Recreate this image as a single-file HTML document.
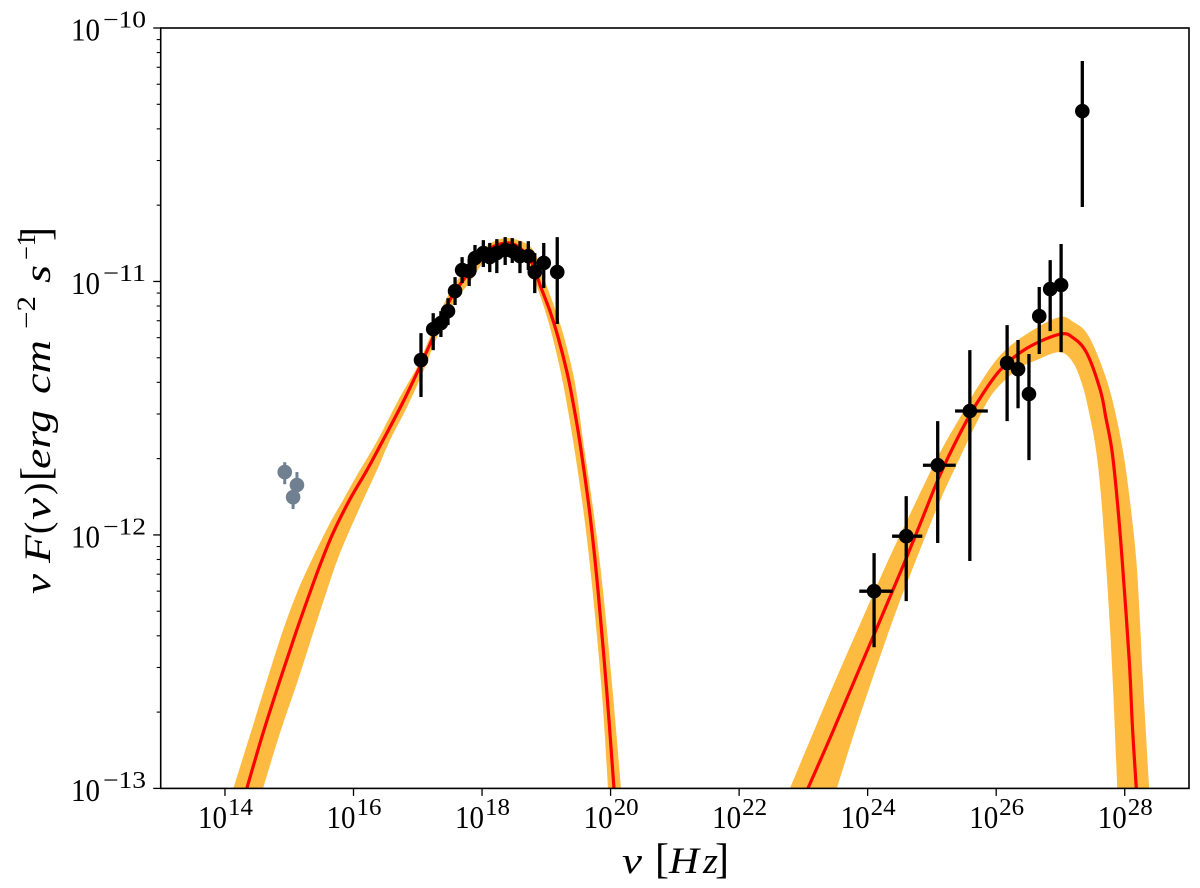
<!DOCTYPE html>
<html lang="en">
<head>
<meta charset="utf-8">
<title>Spectral energy distribution</title>
<style>
html,body{margin:0;padding:0;background:#fff;width:1200px;height:888px;overflow:hidden}
svg{display:block}
text{font-family:"Liberation Serif",serif;fill:#000}
.m{font-style:italic}
</style>
</head>
<body>
<svg id="chart" xmlns="http://www.w3.org/2000/svg" width="1200" height="888" viewBox="0 0 1200 888">
  <defs><clipPath id="plot-clip"><rect x="160.7" y="28" width="1028.3" height="760.4"/></clipPath></defs>
  <g id="bands" clip-path="url(#plot-clip)"></g>
  <g id="lines" clip-path="url(#plot-clip)"></g>
  <g id="points" clip-path="url(#plot-clip)"></g>
  <rect x="160.7" y="28" width="1028.3" height="760.4" fill="none" stroke="#000" stroke-width="1.6"/>
  <g id="ticks"></g>
  <g>
    <text y="873" font-size="37">
      <tspan class="m" x="622" textLength="20" lengthAdjust="spacingAndGlyphs">ν</tspan><tspan x="655" font-size="42">[</tspan><tspan class="m" x="669" textLength="30" lengthAdjust="spacingAndGlyphs">H</tspan><tspan class="m" x="703" textLength="15" lengthAdjust="spacingAndGlyphs">z</tspan><tspan x="715" font-size="42">]</tspan>
    </text>
  </g>
  <g transform="translate(50,594) rotate(-90)">
    <text y="0" font-size="37">
      <tspan class="m" x="0" textLength="20" lengthAdjust="spacingAndGlyphs">ν</tspan><tspan class="m" x="31" textLength="28" lengthAdjust="spacingAndGlyphs">F</tspan><tspan x="60">(</tspan><tspan class="m" x="74" textLength="22" lengthAdjust="spacingAndGlyphs">ν</tspan><tspan x="99">)</tspan><tspan x="113" font-size="42">[</tspan><tspan class="m" x="125" textLength="59" lengthAdjust="spacingAndGlyphs">erg</tspan><tspan class="m" x="200" textLength="54" lengthAdjust="spacingAndGlyphs">cm</tspan><tspan x="265" y="-15" font-size="26" textLength="33" lengthAdjust="spacingAndGlyphs">−2</tspan><tspan class="m" x="311" y="0" textLength="18" lengthAdjust="spacingAndGlyphs">s</tspan><tspan x="334" y="-15" font-size="26" textLength="26" lengthAdjust="spacingAndGlyphs">−1</tspan><tspan x="353" y="0" font-size="42">]</tspan>
    </text>
  </g>
</svg>
<script>
// All values are log10(frequency / Hz) and log10(flux / erg cm^-2 s^-1)
const modelNu = [14.34,14.592,14.856,15.105,15.292,15.479,15.681,15.945,16.21,16.46,16.77,17.03,17.24,17.50,17.73,18.05,18.36,18.59,18.793,18.902,19.057,19.182,19.322,19.415,19.524,19.68,19.804,19.944,20.053];
const modelFlux = [-13,-12.782,-12.573,-12.384,-12.249,-12.119,-11.993,-11.859,-11.744,-11.626,-11.476,-11.338,-11.219,-11.073,-10.987,-10.884,-10.848,-10.868,-10.935,-11.014,-11.117,-11.219,-11.358,-11.476,-11.638,-11.922,-12.218,-12.628,-13];
const modelHighNu = [23.07,23.414,23.725,24.036,24.30,24.55,24.81,25.125,25.44,25.70,26.06,26.48,26.99,27.20,27.41,27.62,27.708,27.80,27.879,27.96,28.07,28.12,28.18];
const modelHighFlux = [-13,-12.802,-12.616,-12.431,-12.273,-12.123,-11.961,-11.764,-11.598,-11.480,-11.350,-11.263,-11.208,-11.223,-11.283,-11.429,-11.539,-11.665,-11.851,-12.099,-12.494,-12.758,-13];

const bandUpperNu = [14.13,14.389,14.654,14.903,15.136,15.37,15.634,15.836,16.054,16.366,16.723,16.988,17.19,17.45,17.73,18.05,18.36,18.67,18.824,18.949,19.104,19.259,19.415,19.493,19.571,19.742,19.882,20.037,20.162];
const bandUpperFlux = [-13,-12.79,-12.573,-12.376,-12.218,-12.088,-11.953,-11.863,-11.764,-11.63,-11.456,-11.338,-11.219,-11.066,-10.955,-10.864,-10.829,-10.848,-10.888,-10.979,-11.085,-11.204,-11.361,-11.476,-11.626,-11.922,-12.218,-12.628,-13];
const bandLowerNu = [14.592,14.856,15.136,15.37,15.588,15.79,16.101,16.366,16.568,16.832,17.08,17.28,17.55,17.81,18.12,18.36,18.59,18.699,18.855,19.011,19.135,19.259,19.415,19.586,19.719,19.866,19.96];
const bandLowerFlux = [-13,-12.782,-12.573,-12.388,-12.218,-12.072,-11.89,-11.744,-11.626,-11.496,-11.358,-11.231,-11.089,-11.002,-10.892,-10.872,-10.892,-10.923,-11.022,-11.14,-11.259,-11.401,-11.626,-11.922,-12.218,-12.628,-13];

const bandHighUpperNu = [22.79,23.15,23.52,23.93,24.30,24.74,25.13,25.44,25.75,26.11,26.57,26.99,27.20,27.41,27.62,27.80,27.97,28.08,28.18,28.24,28.28,28.38];
const bandHighUpperFlux = [-13,-12.782,-12.561,-12.324,-12.111,-11.875,-11.673,-11.535,-11.401,-11.279,-11.192,-11.140,-11.160,-11.204,-11.318,-11.460,-11.665,-11.863,-12.099,-12.356,-12.561,-13];
const bandHighLowerNu = [23.52,23.83,24.19,24.46,24.74,25.13,25.44,25.70,25.95,26.32,26.63,26.99,27.20,27.35,27.46,27.553,27.63,27.704,27.77,27.822,27.884];
const bandHighLowerFlux = [-13,-12.751,-12.482,-12.289,-12.107,-11.863,-11.693,-11.555,-11.440,-11.350,-11.310,-11.279,-11.322,-11.417,-11.535,-11.665,-11.843,-12.099,-12.364,-12.624,-13];

const xrayNu = [17.05,17.24,17.36,17.47,17.58,17.69,17.80,17.89,18.02,18.12,18.23,18.36,18.47,18.59,18.72,18.82,18.96,19.17];
const xrayFlux = [-11.310,-11.188,-11.164,-11.117,-11.038,-10.955,-10.959,-10.908,-10.888,-10.904,-10.888,-10.876,-10.880,-10.900,-10.900,-10.963,-10.927,-10.963];
const xrayFluxHi = [-11.204,-11.125,-11.117,-11.066,-10.983,-10.904,-10.912,-10.856,-10.837,-10.848,-10.833,-10.825,-10.829,-10.841,-10.841,-10.888,-10.848,-10.825];
const xrayFluxLo = [-11.456,-11.271,-11.219,-11.172,-11.093,-11.006,-11.018,-10.963,-10.943,-10.963,-10.967,-10.935,-10.927,-10.967,-10.955,-11.046,-11.026,-11.168];

const gammaNu = [24.10,24.60,25.09,25.59,26.17,26.34,26.51,26.67,26.84,27.01,27.34];
const gammaNuLo = [23.87,24.38,24.86,25.36,26.17,26.34,26.51,26.67,26.84,27.01,27.34];
const gammaNuHi = [24.39,24.85,25.37,25.87,26.17,26.34,26.51,26.67,26.84,27.01,27.34];
const gammaFlux = [-12.222,-12.005,-11.725,-11.511,-11.322,-11.346,-11.444,-11.137,-11.030,-11.014,-10.328];
const gammaFluxHi = [-12.072,-11.847,-11.551,-11.271,-11.172,-11.231,-11.286,-11.022,-10.916,-10.852,-10.130];
const gammaFluxLo = [-12.443,-12.261,-12.032,-12.103,-11.551,-11.500,-11.705,-11.286,-11.196,-11.279,-10.706];

const opticalNu = [14.93,15.12,15.06];
const opticalFlux = [-11.752,-11.803,-11.851];
const opticalFluxHi = [-11.713,-11.752,-11.803];
const opticalFluxLo = [-11.800,-11.851,-11.898];

const xTickExponents = [14,16,18,20,22,24,26,28];
const yTickExponents = [-10,-11,-12,-13];
const yMinorMultipliers = [2,3,4,5,6,7,8,9];

const NS = 'http://www.w3.org/2000/svg';
const xMin = 13, xMax = 29, yMax = -10, yMin = -13;
const left = 160.7, right = 1189, top_ = 28, bottom = 788.4;
function xScale(v) { return left + (v - xMin) / (xMax - xMin) * (right - left); }
function yScale(v) { return top_ + (yMax - v) / (yMax - yMin) * (bottom - top_); }

function toPoints(nu, flux) {
  return nu.map(function (n, i) { return [xScale(n), yScale(flux[i])]; });
}
// Smooth path through points (Catmull-Rom)
function smooth(pts, move) {
  let d = (move ? 'M' : 'L') + pts[0][0].toFixed(2) + ' ' + pts[0][1].toFixed(2);
  for (let i = 0; i < pts.length - 1; i++) {
    const p0 = pts[Math.max(i - 1, 0)], p1 = pts[i], p2 = pts[i + 1], p3 = pts[Math.min(i + 2, pts.length - 1)];
    const c1x = p1[0] + (p2[0] - p0[0]) / 6, c1y = p1[1] + (p2[1] - p0[1]) / 6;
    const c2x = p2[0] - (p3[0] - p1[0]) / 6, c2y = p2[1] - (p3[1] - p1[1]) / 6;
    d += 'C' + c1x.toFixed(2) + ' ' + c1y.toFixed(2) + ' ' + c2x.toFixed(2) + ' ' + c2y.toFixed(2) + ' ' + p2[0].toFixed(2) + ' ' + p2[1].toFixed(2);
  }
  return d;
}
function svgEl(tag, parent) {
  const el = document.createElementNS(NS, tag);
  parent.appendChild(el);
  return el;
}
function bandPath(uN, uF, lN, lF) {
  return smooth(toPoints(uN, uF), true) + smooth(toPoints(lN, lF).reverse(), false) + 'Z';
}

const bands = document.getElementById('bands');
const lines = document.getElementById('lines');
const points = document.getElementById('points');
const ticks = document.getElementById('ticks');

const bandLow = svgEl('path', bands);


bandLow.setAttribute('d', bandPath(bandUpperNu, bandUpperFlux, bandLowerNu, bandLowerFlux));
bandLow.setAttribute('fill', '#febb41');

const bandHigh = svgEl('path', bands);


bandHigh.setAttribute('d', bandPath(bandHighUpperNu, bandHighUpperFlux, bandHighLowerNu, bandHighLowerFlux));
bandHigh.setAttribute('fill', '#febb41');

const lineLow = svgEl('path', lines);


lineLow.setAttribute('d', smooth(toPoints(modelNu, modelFlux), true));
lineLow.setAttribute('fill', 'none');
lineLow.setAttribute('stroke', '#ff0000');
lineLow.setAttribute('stroke-width', '3.2');

const lineHigh = svgEl('path', lines);


lineHigh.setAttribute('d', smooth(toPoints(modelHighNu, modelHighFlux), true));
lineHigh.setAttribute('fill', 'none');
lineHigh.setAttribute('stroke', '#ff0000');
lineHigh.setAttribute('stroke-width', '3.2');

function drawSegment(parent, x1, y1, x2, y2, color, width) {
  const s = svgEl('line', parent);
  
  
  s.setAttribute('x1', x1);
  s.setAttribute('y1', y1);
  s.setAttribute('x2', x2);
  s.setAttribute('y2', y2);
  s.setAttribute('stroke', color);
  s.setAttribute('stroke-width', width);
}
function drawMarker(parent, name, nu, flux, color) {
  const c = svgEl('circle', parent);
  
  
  c.setAttribute('cx', xScale(nu));
  c.setAttribute('cy', yScale(flux));
  c.setAttribute('r', 7.3);
  c.setAttribute('fill', color);
}

// optical points
opticalNu.forEach(function (n, i) {
  drawSegment(points, xScale(n), yScale(opticalFluxHi[i]), xScale(n), yScale(opticalFluxLo[i]), '#708090', 3);
  drawMarker(points, 'optical-point', n, opticalFlux[i], '#708090');
});
// x-ray points
xrayNu.forEach(function (n, i) {
  drawSegment(points, xScale(n), yScale(xrayFluxHi[i]), xScale(n), yScale(xrayFluxLo[i]), '#000', 3.3);
  drawMarker(points, 'xray-point', n, xrayFlux[i], '#000');
});
// gamma-ray points
gammaNu.forEach(function (n, i) {
  drawSegment(points, xScale(n), yScale(gammaFluxHi[i]), xScale(n), yScale(gammaFluxLo[i]), '#000', 3.3);
  if (gammaNuHi[i] > gammaNuLo[i]) {
    drawSegment(points, xScale(gammaNuLo[i]), yScale(gammaFlux[i]), xScale(gammaNuHi[i]), yScale(gammaFlux[i]), '#000', 3.3);
  }
  drawMarker(points, 'gamma-ray-point', n, gammaFlux[i], '#000');
});

function tickMark(x1, y1, x2, y2, width) {
  const t = svgEl('line', ticks);
  
  
  t.setAttribute('x1', x1);
  t.setAttribute('y1', y1);
  t.setAttribute('x2', x2);
  t.setAttribute('y2', y2);
  t.setAttribute('stroke', '#000');
  t.setAttribute('stroke-width', width);
}
function tickText(parent, name, str, x, y, size, len) {
  const t = svgEl('text', parent);
  
  
  t.setAttribute('x', x);
  t.setAttribute('y', y);
  t.setAttribute('font-size', size);
  t.setAttribute('textLength', len);
  t.setAttribute('lengthAdjust', 'spacingAndGlyphs');
  t.textContent = str;
}
xTickExponents.forEach(function (e) {
  const x = xScale(e);
  tickMark(x, bottom, x, bottom + 7.5, 1.3);
  tickText(ticks, 'x-tick-label-base', '10', x - 27, 828, 32, 29);
  tickText(ticks, 'x-tick-label-exponent', String(e), x + 3, 815, 24, 25);
});
yTickExponents.forEach(function (e) {
  const y = yScale(e);
  tickMark(left - 7.5, y, left, y, 1.3);
  tickText(ticks, 'y-tick-label-base', '10', 71, y + 12.5, 32, 29);
  tickText(ticks, 'y-tick-label-exponent', '\u2212' + String(-e), 103, y - 0.5, 24, 43);
  if (e > yMin) {
    yMinorMultipliers.forEach(function (m) {
      const ym = yScale(e - 1 + Math.log10(m));
      tickMark(left - 4, ym, left, ym, 1.1);
    });
  }
});
</script>
</body>
</html>
